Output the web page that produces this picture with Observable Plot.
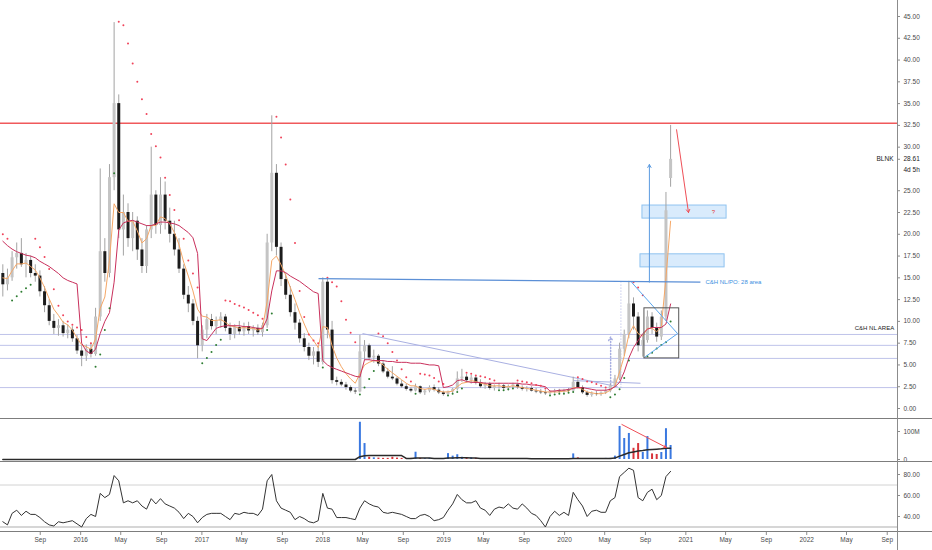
<!DOCTYPE html>
<html><head><meta charset="utf-8">
<script src="https://cdn.jsdelivr.net/npm/d3@7"></script>
<script src="https://cdn.jsdelivr.net/npm/@observablehq/plot@0.6"></script>
<style>
body{margin:0;background:#fff;}
#chart{position:relative;width:932px;height:550px;overflow:hidden;font-family:"Liberation Sans",Arial,sans-serif;background:#fff;}
#chart svg{position:absolute;left:0;}
.sep{position:absolute;left:0;width:932px;height:0;border-top:1.5px solid #7d7d7d;}
.vax{position:absolute;left:897px;top:0;width:0;height:550px;border-left:1px solid #8c8c8c;}
</style></head><body><div id="chart"></div>
<script>
// ---------- data (biweekly candles from 2015-05-11) ----------
const firstCandle = "2015-05-11";
const O = [15.5,14.2,15.0,17.3,17.8,16.5,17.0,15.5,15.2,13.4, 11.8,10.0,9.2,9.5,8.6,9.0,8.0,6.6,6.0,6.8, 6.2,10.5,18.0,15.5,26.5,35.0,20.5,22.5,19.5,21.5, 18.2,16.3,20.5,24.5,21.0,24.5,21.5,20.0,18.2,16.0, 13.0,12.0,10.0,7.2,9.0,10.2,9.4,10.0,10.5,9.2, 8.5,9.3,8.8,9.4,8.9,9.2,8.7,9.5,19.0,27.0, 18.5,14.8,13.0,11.0,9.8,8.0,7.0,6.0,6.5,5.3, 14.5,9.0,3.2,3.0,2.7,2.4,2.0,1.9,6.5,7.2, 5.8,6.0,5.1,4.2,3.6,3.4,2.8,2.5,2.2,2.0, 2.5,1.8,2.0,2.4,2.1,1.8,1.6,1.9,2.2,3.4, 3.6,3.2,3.5,2.9,2.5,2.8,2.3,2.5,2.6,2.3, 2.5,2.7,2.4,2.2,2.3,2.0,1.9,1.8,1.7,1.9, 2.0,1.9,2.1,2.0,3.0,2.4,1.8,1.5,1.7,1.6, 1.8,2.0,2.6,3.4,6.8,8.5,12.0,10.5,7.2,7.8, 10.5,9.2,8.2,10.5,26.4];
const H = [16.5,16.0,18.0,19.0,19.5,17.8,17.5,16.5,15.8,14.0, 12.5,10.8,10.2,10.0,9.6,9.4,8.4,7.2,7.3,7.5, 11.5,27.5,19.5,28.0,44.3,36.0,24.5,23.5,22.5,22.0, 19.5,21.0,30.0,25.0,26.5,26.0,23.0,21.5,19.5,16.5, 14.0,12.5,10.5,9.5,10.8,10.8,10.5,11.0,10.8,9.8, 9.6,10.0,9.8,9.9,9.5,9.6,9.8,20.0,33.6,28.0, 19.0,15.5,14.0,12.0,10.2,8.6,7.5,7.0,7.0,15.0, 15.0,10.0,3.6,3.3,3.0,2.6,2.3,8.4,7.8,7.4, 6.7,6.2,5.5,4.6,4.8,3.6,3.2,2.8,2.4,2.8, 2.6,2.2,2.6,2.7,2.4,2.0,2.0,2.3,4.2,4.5, 3.9,3.8,3.7,3.3,3.0,3.0,2.7,2.9,2.8,2.7, 2.9,2.9,2.6,2.5,2.5,2.3,2.2,2.1,2.0,2.2, 2.2,2.2,2.3,3.6,3.3,2.6,2.0,1.9,2.0,1.9, 2.2,2.8,3.8,7.5,9.0,14.6,12.7,11.0,8.5,11.2, 11.0,9.8,11.2,24.8,32.5];
const L = [12.8,13.5,14.6,16.0,16.2,15.0,15.0,14.5,12.8,11.0, 9.5,8.5,8.3,8.2,8.0,7.6,6.2,4.8,5.4,5.8, 6.0,10.0,14.5,15.0,25.0,19.5,17.5,18.5,18.0,17.0, 15.5,15.5,19.5,20.0,20.0,20.5,19.0,17.5,15.5,12.5, 11.0,9.5,5.7,6.5,8.0,9.0,8.5,9.2,8.8,7.8, 8.0,8.4,8.3,8.5,8.2,8.4,8.2,9.2,18.0,17.5, 14.0,12.5,10.5,9.0,7.5,6.5,5.5,5.0,4.7,5.0, 8.0,2.8,2.6,2.5,2.1,1.8,1.6,1.8,5.5,5.5, 5.2,4.8,4.0,3.4,3.2,2.6,2.3,2.0,1.8,1.9, 1.6,1.5,1.8,1.9,1.6,1.4,1.4,1.7,2.0,3.0, 2.9,2.8,2.7,2.3,2.2,2.1,2.0,2.2,2.1,2.0, 2.3,2.2,2.0,1.9,1.9,1.7,1.6,1.5,1.5,1.7, 1.7,1.7,1.8,1.9,2.2,1.6,1.3,1.3,1.4,1.4, 1.6,1.8,2.4,3.2,6.0,8.0,9.0,6.5,5.9,7.5, 8.5,7.6,7.8,10.0,25.4];
const C = [14.2,15.0,17.3,17.8,16.5,17.0,15.5,15.2,13.4,11.8, 10.0,9.2,9.5,8.6,9.0,8.0,6.6,6.0,6.8,6.2, 10.5,18.0,15.5,26.5,35.0,20.5,22.5,19.5,21.5,18.2, 16.3,20.5,24.5,21.0,24.5,21.5,20.0,18.2,16.0,13.0, 12.0,10.0,7.2,9.0,10.2,9.4,10.0,10.5,9.2,8.5, 9.3,8.8,9.4,8.9,9.2,8.7,9.5,19.0,27.0,18.5, 14.8,13.0,11.0,9.8,8.0,7.0,6.0,6.5,5.3,14.5, 9.0,3.2,3.0,2.7,2.4,2.0,1.9,6.5,7.2,5.8, 6.0,5.1,4.2,3.6,3.4,2.8,2.5,2.2,2.0,2.5, 1.8,2.0,2.4,2.1,1.8,1.6,1.9,2.2,3.4,3.6, 3.2,3.5,2.9,2.5,2.8,2.3,2.5,2.6,2.3,2.5, 2.7,2.4,2.2,2.3,2.0,1.9,1.8,1.7,1.9,2.0, 1.9,2.1,2.0,3.0,2.4,1.8,1.5,1.7,1.6,1.8, 2.0,2.6,3.4,6.8,8.5,12.0,10.5,7.2,7.8,10.5, 9.2,8.2,10.5,22.7,28.6];
// crimson moving average
const MA = [19.2,18.7,18.3,18.0,17.8,17.6,17.5,17.3,16.9,16.6, 16.3,15.9,15.5,15.0,14.7,14.5,14.3,7.5,6.6,6.3, 6.8,8.6,10.0,11.0,14.5,20.5,21.3,21.5,21.6,21.4, 21.2,21.0,21.0,21.2,21.4,21.4,21.3,21.2,21.0,20.6, 20.2,19.6,17.8,8.0,7.8,8.5,9.2,9.4,9.5,9.5, 9.5,9.5,9.4,9.4,9.3,9.2,9.2,10.3,13.5,15.8, 15.8,15.6,15.2,14.9,14.6,14.2,13.8,13.4,13.2,5.5, 5.0,4.7,4.5,4.3,4.1,3.9,3.7,3.6,5.6,5.6, 5.5,5.5,5.5,5.4,5.4,5.3,5.3,5.3,5.2,5.2, 5.2,5.1,5.0,5.0,4.9,2.4,2.5,2.7,3.2,3.3, 3.1,3.0,3.0,3.0,2.9,2.9,2.9,2.9,2.9,2.9, 2.9,2.9,2.8,2.8,2.7,2.7,2.6,2.5,2.0,2.0, 2.1,2.1,2.2,2.3,2.4,2.4,2.3,2.2,2.1,2.1, 2.1,2.2,2.5,3.0,4.2,5.8,7.0,7.8,8.6,9.1, 9.3,9.3,9.3,9.7,12.0];
// orange fast average
const EMA = [15.0,14.9,15.8,16.6,16.6,16.7,16.3,15.9,15.0,13.9, 12.6,11.4,10.7,9.9,9.6,9.0,8.1,7.3,7.1,6.8, 8.0,11.5,12.8,17.0,23.5,22.5,22.5,21.5,21.5,20.4, 19.0,19.5,21.0,21.0,22.0,21.8,21.2,20.2,18.8,16.8, 15.2,13.5,11.4,10.6,10.5,10.1,10.1,10.2,9.9,9.5, 9.4,9.2,9.3,9.2,9.2,9.0,9.2,12.3,17.0,17.5, 16.5,15.3,13.9,12.5,11.0,9.7,8.5,7.8,7.0,9.4, 9.3,7.2,5.8,4.8,4.0,3.4,2.9,4.0,5.0,5.3, 5.5,5.4,5.0,4.5,4.1,3.7,3.3,2.9,2.6,2.6, 2.3,2.2,2.3,2.2,2.0,1.9,1.9,2.0,2.5,2.9, 3.0,3.2,3.1,2.9,2.8,2.6,2.6,2.6,2.5,2.5, 2.6,2.5,2.4,2.3,2.2,2.1,2.0,1.9,1.9,1.9, 1.9,2.0,2.0,2.4,2.4,2.2,1.9,1.8,1.7,1.7, 1.8,2.1,2.6,4.2,6.0,8.5,9.5,8.6,8.3,9.2, 9.2,8.8,9.4,15.0,21.5];
// parabolic SAR
const SAR = [20.0,19.5,12.4,12.9,13.4,13.8,14.2,19.5,18.5,17.4, 16.0,13.7,11.8,10.7,10.0,9.6,9.3,9.0,8.2,7.5, 4.8,6.2,9.0,11.5,27.0,44.4,44.0,41.9,39.6,37.5, 35.5,33.8,31.5,30.1,28.8,26.5,24.5,22.8,21.6,19.5, 17.0,15.5,13.9,5.2,5.8,6.5,7.3,7.9,12.4,12.3, 12.0,11.8,11.6,11.3,11.0,10.7,10.3,9.0,10.9,33.5, 31.1,28.0,24.0,19.0,13.5,10.5,8.5,7.8,7.5,4.7, 15.0,14.5,14.0,12.3,10.2,8.7,7.6,1.6,2.4,3.4, 4.3,8.6,8.3,7.5,6.5,5.5,4.5,3.6,3.1,1.7, 4.0,3.9,3.8,3.5,3.1,2.8,1.5,1.7,1.9,2.3, 4.1,4.0,3.8,3.7,3.6,3.4,3.2,2.1,2.1,2.2, 2.3,3.2,3.1,3.0,2.9,2.7,2.6,2.3,1.5,1.6, 1.7,1.7,1.8,1.9,3.6,3.4,3.1,3.0,2.8,2.6, 2.4,1.3,1.6,2.2,3.5,5.5,14.5,13.9,13.0,6.0, 6.4,6.9,7.3,7.6,10.0];
// volume (millions) and its moving average
const VOL = [0,0,0,0,0,0,0,0,0,0, 0,0,0,0,0,0,0,0,0,0, 0,0,0,0,0,0,0,0,0,0, 0,0,0,0,0,0,0,0,0,0, 0,0,0,0,0,0,0,0,0,0, 0,0,0,0,0,0,0,0,0,0, 0,0,0,0,0,0,0,0,0,0, 0,0,0,0,0,0,0,133,57,8, 6,5,4,4,8,5,4,3,4,26, 4,3,4,3,3,3,21,12,17,8, 5,6,4,3,3,3,3,3,2,3, 3,2,2,2,2,3,2,2,2,3, 2,2,3,20,6,3,3,2,3,3, 4,4,12,118,75,93,40,57,25,82, 20,18,25,110,50];
const VMA = [0,0,0,0,0,0,0,0,0,0, 0,0,0,0,0,0,0,0,0,0, 0,0,0,0,0,0,0,0,0,0, 0,0,0,0,0,0,0,0,0,0, 0,0,0,0,0,0,0,0,0,0, 0,0,0,0,0,0,0,0,0,0, 0,0,0,0,0,0,0,0,0,0, 0,0,0,0,0,0,0,10,13,14, 14,14,14,14,14,14,14,4,4,5, 5,5,5,4,4,4,5,5,6,6, 6,5,5,4,4,4,4,4,4,4, 4,4,4,4,3,3,3,3,3,3, 3,3,3,4,4,4,4,4,4,4, 4,4,5,12,18,24,27,30,32,35, 36,37,38,40,40];
// RSI
const RSI = [35,32,43,46,41,45,42,42,39,35, 32,31,35,34,35,36,33,30,38,42, 40,62,58,61,79,74,53,55,53,55, 50,47,57,52,57,52,50,48,44,38, 43,40,34,39,42,43,43,43,40,37, 43,42,44,43,43,41,47,74,80,55, 48,46,44,37,40,38,35,34,36,62, 48,47,39,39,39,38,37,48,55,52, 50,49,44,43,44,43,42,40,38,38, 41,42,40,36,37,39,46,52,61,56, 53,53,55,48,46,41,47,49,48,52, 48,47,52,48,43,41,36,30,40,45, 41,44,41,63,56,50,40,45,46,44, 44,55,58,78,82,86,84,58,55,63, 66,56,60,78,83];

// axis ticks
const priceTicks = [0,2.5,5,7.5,10,12.5,15,17.5,20,22.5,25,30,32.5,35,37.5,40,42.5,45];
const volTicks = [0,100];
const volTickLabels = ["0","100M"];
const rsiTicks = [40,60,80];
const rsiBands = [70,30];
const timeTicks = ["2015-09-01","2016-01-01","2016-05-01","2016-09-01","2017-01-01","2017-05-01","2017-09-01","2018-01-01","2018-05-01","2018-09-01","2019-01-01","2019-05-01","2019-09-01","2020-01-01","2020-05-01","2020-09-01","2021-01-01","2021-05-01","2021-09-01","2022-01-01","2022-05-01","2022-09-01"];
const timeLabels = ["Sep","2016","May","Sep","2017","May","Sep","2018","May","Sep","2019","May","Sep","2020","May","Sep","2021","May","Sep","2022","May","Sep"];

// drawings
const levels = [8.5,7.25,5.75,2.4];
const resistance = 32.75;
const lastPrice = 28.61;
const neckline = ["2017-12-19",14.9,"2021-02-14",14.5];
const downTrend = [["2018-05-01",8.6,"2020-06-09",2.5],["2020-01-28",3.2,"2020-08-17",2.9]];
const triangle = [["2020-07-21",14.5,"2020-12-07",8.6],["2020-08-29",5.86,"2020-12-07",8.6]];
const dottedUp = [["2020-06-19",2.4,"2020-06-19",14.5]];
const dottedArrow = [["2020-05-19",2.4,"2020-05-19",8.2]];
const targetArrow = ["2020-09-13",14.5,"2020-09-13",28.0];
const zones = [["2020-08-23","2021-05-04",21.8,23.3],["2020-08-17","2021-04-28",16.2,17.7]];
const box = ["2020-08-29","2020-12-12",5.75,11.5];
const redArrow = ["2020-12-04",32.0,"2021-01-09",22.5];
const volArrow = ["2020-06-22",125,"2020-11-03",43];
const noteNeck = {t:"C&H NL/PO: 28 area", d:"2021-03-01", p:14.5};
const noteQ = {t:"?", d:"2021-03-25", p:22.5};
const noteArea = {t:"C&H NL AREA", d:"2022-09-22", p:9.2};

// ---------- build ----------
const P = s => new Date(s);
const d0 = P("2015-05-04"), d1 = P("2022-10-02");
const start = P(firstCandle);
const rows = O.map((o,i)=>({date:d3.utcDay.offset(start,14*i), o, h:H[i], l:L[i], c:C[i], ma:MA[i], ema:EMA[i], sar:SAR[i], v:VOL[i], vma:VMA[i], rsi:RSI[i]}));
const up = rows.filter(r=>r.c>=r.o), dn = rows.filter(r=>r.c<r.o);
const X = {type:"utc", domain:[d0,d1], range:[0,897], axis:null};
const font = "Liberation Sans, Arial, sans-serif";
const axisText = "#4a4a4a";
const seg = a => ({x1:P(a[0]), y1:a[1], x2:P(a[2]), y2:a[3]});
const note = (n, anchor, color) => Plot.text([n], {x:d=>P(d.d), y:"p", text:"t", textAnchor:anchor, fill:color, fontSize:6});

const main = Plot.plot({
  width:932, height:419, margin:0, marginRight:35,
  x:X, y:{domain:[0,45], range:[408,16], axis:null},
  style:{fontFamily:font, overflow:"visible", background:"transparent"},
  marks:[
    Plot.ruleY(levels, {y:d=>d, stroke:"#bfc3ea", strokeWidth:1}),
    Plot.link(downTrend.map(seg), {x1:"x1",y1:"y1",x2:"x2",y2:"y2", stroke:"#a9b0e2", strokeWidth:1}),
    Plot.link(dottedUp.map(seg), {x1:"x1",y1:"y1",x2:"x2",y2:"y2", stroke:"#a9b0e2", strokeDasharray:"1,2"}),
    Plot.arrow(dottedArrow.map(seg), {x1:"x1",y1:"y1",x2:"x2",y2:"y2", stroke:"#a9b0e2", strokeDasharray:"1,2", headLength:4}),
    Plot.ruleY([resistance], {y:d=>d, stroke:"#f0595b", strokeWidth:1.5}),
    Plot.rect(zones, {x1:d=>P(d[0]), x2:d=>P(d[1]), y1:d=>d[2], y2:d=>d[3], fill:"#cfe6fb", fillOpacity:0.8, stroke:"#8fc3f0", strokeWidth:1}),
    Plot.ruleX(rows, {x:"date", y1:"l", y2:"h", stroke:"#a3a3a3", strokeWidth:1}),
    Plot.ruleX(up, {x:"date", y1:"o", y2:"c", stroke:"#c4c4c4", strokeWidth:3}),
    Plot.ruleX(dn, {x:"date", y1:"o", y2:"c", stroke:"#1c1c1c", strokeWidth:3}),
    Plot.line(rows, {x:"date", y:"ema", stroke:"#f5a766", strokeWidth:1}),
    Plot.line(rows, {x:"date", y:"ma", stroke:"#c9305c", strokeWidth:1}),
    Plot.dot(rows.filter(r=>r.sar>r.c), {x:"date", y:"sar", r:1, fill:"#f0435a", stroke:null}),
    Plot.dot(rows.filter(r=>r.sar<=r.c), {x:"date", y:"sar", r:1, fill:"#2e7d32", stroke:null}),
    Plot.link([seg(neckline)], {x1:"x1",y1:"y1",x2:"x2",y2:"y2", stroke:"#5b8fd6", strokeWidth:1.2}),
    Plot.link(triangle.map(seg), {x1:"x1",y1:"y1",x2:"x2",y2:"y2", stroke:"#5aa7ee", strokeWidth:1}),
    Plot.rect([box], {x1:d=>P(d[0]), x2:d=>P(d[1]), y1:d=>d[2], y2:d=>d[3], fill:"none", stroke:"#555", strokeWidth:1}),
    Plot.arrow([seg(targetArrow)], {x1:"x1",y1:"y1",x2:"x2",y2:"y2", stroke:"#5b9be0", strokeWidth:1, headLength:5}),
    Plot.arrow([seg(redArrow)], {x1:"x1",y1:"y1",x2:"x2",y2:"y2", stroke:"#ef4f57", strokeWidth:1, headLength:5}),
    note(noteNeck, "start", "#3d8fe0"),
    note(noteQ, "middle", "#e53935"),
    note(noteArea, "end", "#222"),
    // right price axis
    Plot.ruleY(priceTicks.concat([lastPrice]), {y:d=>d, insetLeft:894, dx:3, stroke:"#8c8c8c"}),
    Plot.text(priceTicks, {x:()=>d1, y:d=>d, text:d=>d.toFixed(2), dx:6, textAnchor:"start", fontSize:6.5, fill:axisText}),
    Plot.text([lastPrice], {x:()=>d1, y:d=>d, text:()=>"BLNK", dx:-4, textAnchor:"end", fontSize:6.5, fill:"#222"}),
    Plot.text([lastPrice], {x:()=>d1, y:d=>d, text:d=>d.toFixed(2), dx:6, textAnchor:"start", fontSize:6.5, fill:"#222"}),
    Plot.text([lastPrice], {x:()=>d1, y:d=>d, text:()=>"4d 5h", dx:6, dy:11, textAnchor:"start", fontSize:6.5, fill:"#222"})
  ]
});

const vol = Plot.plot({
  width:932, height:43, margin:0, marginRight:35,
  x:X, y:{domain:[0,100], range:[40,12], axis:null},
  style:{fontFamily:font, overflow:"visible", background:"transparent"},
  marks:[
    Plot.ruleX(up.filter(r=>r.v>0), {x:"date", y1:0, y2:"v", stroke:"#3a78e0", strokeWidth:2}),
    Plot.ruleX(dn.filter(r=>r.v>0), {x:"date", y1:0, y2:"v", stroke:"#d8343a", strokeWidth:2}),
    Plot.line(rows, {x:"date", y:"vma", stroke:"#2a2a2a", strokeWidth:1.5}),
    Plot.arrow([seg(volArrow)], {x1:"x1",y1:"y1",x2:"x2",y2:"y2", stroke:"#ef4f57", strokeWidth:1, headLength:4}),
    Plot.ruleY(volTicks, {y:d=>d, insetLeft:894, dx:3, stroke:"#8c8c8c"}),
    Plot.text(volTicks, {x:()=>d1, y:d=>d, text:(d,i)=>volTickLabels[i], dx:6, textAnchor:"start", fontSize:6.5, fill:axisText})
  ]
});

const rsi = Plot.plot({
  width:932, height:88, margin:0, marginRight:35, marginBottom:18,
  x:X, y:{domain:[40,80], range:[54,12], axis:null},
  style:{fontFamily:font, overflow:"visible", background:"transparent"},
  marks:[
    Plot.ruleY([rsiBands[0]], {y:d=>d, stroke:"#d2d2d2", strokeWidth:1}),
    Plot.ruleY([rsiBands[1]], {y:d=>d, stroke:"#d6d6d6", strokeWidth:2}),
    Plot.line(rows, {x:"date", y:"rsi", stroke:"#333", strokeWidth:1}),
    Plot.ruleY(rsiTicks, {y:d=>d, insetLeft:894, dx:3, stroke:"#8c8c8c"}),
    Plot.text(rsiTicks, {x:()=>d1, y:d=>d, text:d=>d.toFixed(2), dx:6, textAnchor:"start", fontSize:6.5, fill:axisText}),
    Plot.ruleX(timeTicks, {x:d=>P(d), insetTop:67, dy:3, stroke:"#8c8c8c"}),
    Plot.text(timeTicks, {x:d=>P(d), frameAnchor:"bottom", dy:9, text:(d,i)=>timeLabels[i], fontSize:6.5, fill:axisText})
  ]
});

const chart = document.getElementById("chart");
[[main,0],[vol,419],[rsi,462]].forEach(([svg,top])=>{svg.style.top=top+"px"; chart.appendChild(svg);});
[418,461,531].forEach(t=>{const s=document.createElement("div"); s.className="sep"; s.style.top=t+"px"; chart.appendChild(s);});
const v=document.createElement("div"); v.className="vax"; chart.appendChild(v);
</script></body></html>
